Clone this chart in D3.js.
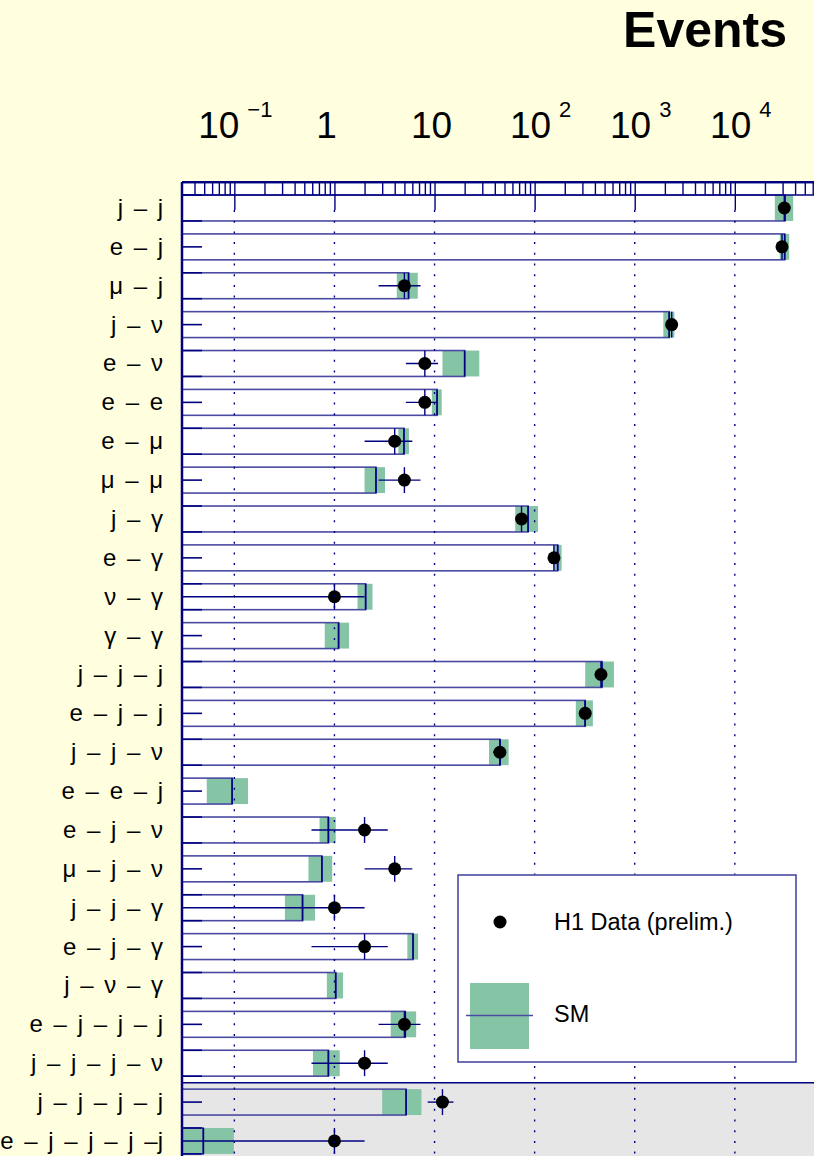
<!DOCTYPE html>
<html>
<head>
<meta charset="utf-8">
<script src="https://cdn.jsdelivr.net/npm/d3@7"></script>
<style>
  html, body { margin: 0; padding: 0; background: #ffffe0; }
  svg { display: block; }
  text { font-family: "Liberation Sans", Arial, Helvetica, sans-serif; fill: #000; }
</style>
</head>
<body>
<svg id="chart" width="814" height="1156"></svg>
<script>
// Event classes (final states)
const categories = [
  "j – j", "e – j", "μ – j", "j – ν", "e – ν", "e – e", "e – μ", "μ – μ",
  "j – γ", "e – γ", "ν – γ", "γ – γ", "j – j – j", "e – j – j", "j – j – ν",
  "e – e – j", "e – j – ν", "μ – j – ν", "j – j – γ", "e – j – γ", "j – ν – γ",
  "e – j – j – j", "j – j – j – ν", "j – j – j – j", "e – j – j – j –j"
];

// Observed events (null = no event observed)
const dataEvents = [
  31200, 29600, 5, 2340, 8, 8, 4, 5,
  74, 156, 1, null, 460, 320, 45,
  null, 2, 4, 1, 2, null,
  5, 2, 12, 1
];
// Statistical uncertainty on the observed counts
const dataErrors = [
  177, 172, 2.24, 48, 2.83, 2.83, 2, 2.24,
  8.6, 12.5, 1, 0, 21, 18, 6.7,
  0, 1.41, 2, 1, 1.41, 0,
  2.24, 1.41, 3.46, 1
];

// Standard Model expectation and its uncertainty
const smEvents = [
  31700, 31500, 5.5, 2210, 20, 10.6, 4.95, 2.6,
  86, 170, 2.05, 1.1, 470, 320, 45,
  0.095, 0.87, 0.75, 0.48, 6.1, 1.03,
  5.1, 0.87, 5.2, 0.049
];
const smErrors = [
  6600, 3400, 1.3, 280, 8, 1.2, 0.6, 0.6,
  22, 16, 0.35, 0.3, 150, 62, 10,
  0.042, 0.16, 0.2, 0.16, 0.75, 0.19,
  1.45, 0.26, 2.2, 0.05
];

// Decade exponents used for the axis labels
const decadeExponents = [-1, 0, 1, 2, 3, 4];
// Classes in the shaded region start at this index
const shadedFrom = 23;

const legendLabels = ["H1 Data (prelim.)", "SM"];

const navy = "#000080";
const navyLight = "#4a4aa2";
const green = "#86c4a6";

const plot = { left: 182, top: 182, right: 814, bottom: 1156 };

const svg = d3.select("#chart");

const x = d3.scaleLog().domain([0.03, 61800]).range([plot.left, plot.right]);
const [xMin, xMax] = x.domain();
const clampX = v => x(Math.max(xMin, Math.min(xMax, v)));

const yRange = [188.56, 1160.4];
const y = d3.scaleBand().domain(categories).range(yRange)
  .paddingInner(1 / 3).paddingOuter(1 / 6);
// Row-unit scale (one unit per class) for ticks and the shaded band
const yUnit = d3.scaleLinear().domain([0, categories.length]).range(yRange);
const bw = y.bandwidth();

// Title
svg.append("text")
  .attr("x", 787).attr("y", 47)
  .attr("text-anchor", "end")
  .style("font-size", "50px").style("font-weight", "bold")
  .text("Events");

// Plot area
svg.append("rect")
  .attr("x", plot.left).attr("y", plot.top)
  .attr("width", plot.right - plot.left).attr("height", plot.bottom - plot.top)
  .attr("fill", "#fff");

// Shaded region for the highest multiplicity classes
svg.append("rect")
  .attr("x", plot.left).attr("y", yUnit(shadedFrom))
  .attr("width", plot.right - plot.left).attr("height", plot.bottom - yUnit(shadedFrom))
  .attr("fill", "#e6e6e6");
svg.append("line")
  .attr("x1", plot.left).attr("x2", plot.right)
  .attr("y1", yUnit(shadedFrom)).attr("y2", yUnit(shadedFrom))
  .attr("stroke", navy).attr("stroke-width", 1.5);

const rows = svg.append("g").selectAll("g")
  .data(categories.map((c, i) => ({
    cat: c, data: dataEvents[i], dErr: dataErrors[i], sm: smEvents[i], smErr: smErrors[i]
  })))
  .join("g");

// SM uncertainty band
rows.append("rect")
  .attr("x", d => clampX(d.sm - d.smErr))
  .attr("y", d => y(d.cat))
  .attr("width", d => clampX(d.sm + d.smErr) - clampX(d.sm - d.smErr))
  .attr("height", bw)
  .attr("fill", green);

// SM bar outline
rows.append("rect")
  .attr("x", plot.left)
  .attr("y", d => y(d.cat))
  .attr("width", d => x(d.sm) - plot.left)
  .attr("height", bw)
  .attr("fill", "none")
  .attr("stroke", navyLight).attr("stroke-width", 1.6);
rows.append("line")
  .attr("x1", d => x(d.sm)).attr("x2", d => x(d.sm))
  .attr("y1", d => y(d.cat)).attr("y2", d => y(d.cat) + bw)
  .attr("stroke", navy).attr("stroke-width", 1.6);

// Vertical dotted grid at each decade
const decades = decadeExponents.map(k => Math.pow(10, k));
svg.append("g").selectAll("line")
  .data(decades)
  .join("line")
  .attr("x1", d => x(d)).attr("x2", d => x(d))
  .attr("y1", plot.top + 28).attr("y2", plot.bottom)
  .attr("stroke", navy).attr("stroke-width", 1.4)
  .attr("stroke-dasharray", "2,8.7");

// Data points with error bars
const dataRows = rows.filter(d => d.data !== null);
dataRows.append("line")
  .attr("x1", d => clampX(d.data - d.dErr)).attr("x2", d => clampX(d.data + d.dErr))
  .attr("y1", d => y(d.cat) + bw / 2).attr("y2", d => y(d.cat) + bw / 2)
  .attr("stroke", navy).attr("stroke-width", 1.4);
dataRows.append("line")
  .attr("x1", d => x(d.data)).attr("x2", d => x(d.data))
  .attr("y1", d => y(d.cat)).attr("y2", d => y(d.cat) + bw)
  .attr("stroke", navy).attr("stroke-width", 1.4);
dataRows.append("circle")
  .attr("cx", d => x(d.data)).attr("cy", d => y(d.cat) + bw / 2)
  .attr("r", 6.5).attr("fill", "#000");

// Left axis line and its ticks
const tickUnits = d3.range(0, 38).map(k => 1 / 6 + k * 2 / 3);
svg.append("g").selectAll("line")
  .data(tickUnits)
  .join("line")
  .attr("x1", plot.left).attr("x2", plot.left + 20)
  .attr("y1", d => yUnit(d)).attr("y2", d => yUnit(d))
  .attr("stroke", navy).attr("stroke-width", 1.6);
svg.append("line")
  .attr("x1", plot.left).attr("x2", plot.left)
  .attr("y1", plot.top).attr("y2", plot.bottom)
  .attr("stroke", navy).attr("stroke-width", 2.5);

// Top axis: minor and major ticks pointing into the plot
const minorTicks = [];
for (let e = -2; e <= 4; e++) {
  for (let k = 2; k <= 9; k++) {
    const v = k * Math.pow(10, e);
    if (v > xMin && v < xMax) minorTicks.push(v);
  }
}
const axisMinor = d3.axisBottom(x).tickValues(minorTicks).tickSize(13)
  .tickSizeOuter(0).tickFormat("");
const axisMajor = d3.axisBottom(x).tickValues(decades).tickSize(28)
  .tickSizeOuter(0).tickFormat("");
[axisMinor, axisMajor].forEach(ax => {
  const g = svg.append("g").attr("transform", `translate(0,${plot.top})`).call(ax);
  g.selectAll("path, line").attr("stroke", navy).attr("stroke-width", 1.4);
});
svg.append("line")
  .attr("x1", plot.left).attr("x2", plot.right)
  .attr("y1", plot.top + 13).attr("y2", plot.top + 13)
  .attr("stroke", navy).attr("stroke-width", 1.4);
svg.append("line")
  .attr("x1", plot.left).attr("x2", plot.right)
  .attr("y1", plot.top).attr("y2", plot.top)
  .attr("stroke", navy).attr("stroke-width", 1.8);

// Decade labels
const labels = svg.append("g").selectAll("text")
  .data(decadeExponents)
  .join("text")
  .attr("x", k => x(Math.pow(10, k)) + (k >= 2 ? 6 : (k === 0 ? -8 : (k === 1 ? -3 : 1))))
  .attr("y", 138)
  .attr("text-anchor", "middle")
  .style("font-size", "37px");
labels.each(function (k) {
  const t = d3.select(this);
  if (k === 0) { t.text("1"); return; }
  t.append("tspan").text("10");
  if (k !== 1) {
    t.append("tspan")
      .attr("dx", 8).attr("dy", -21)
      .style("font-size", "22px")
      .text(k < 0 ? "−" + (-k) : String(k));
  }
});

// Class labels
svg.append("g").selectAll("text")
  .data(categories)
  .join("text")
  .attr("x", 163)
  .attr("y", d => y(d) + bw / 2 + 8)
  .attr("text-anchor", "end")
  .style("font-size", "24px")
  .style("word-spacing", "4px")
  .text(d => d);

// Legend
const lg = svg.append("g");
lg.append("rect")
  .attr("x", 458).attr("y", 875).attr("width", 338).attr("height", 187)
  .attr("fill", "#fff").attr("stroke", navyLight).attr("stroke-width", 1.6);
lg.append("circle").attr("cx", 500).attr("cy", 922).attr("r", 6.5).attr("fill", "#000");
lg.append("rect")
  .attr("x", 470).attr("y", 983).attr("width", 59).attr("height", 66)
  .attr("fill", green);
lg.append("line")
  .attr("x1", 466).attr("x2", 533).attr("y1", 1015.5).attr("y2", 1015.5)
  .attr("stroke", navyLight).attr("stroke-width", 1.6);
lg.selectAll("text")
  .data(legendLabels)
  .join("text")
  .attr("x", 554)
  .attr("y", (d, i) => i === 0 ? 930 : 1022)
  .style("font-size", "23.5px")
  .text(d => d);
</script>
</body>
</html>
